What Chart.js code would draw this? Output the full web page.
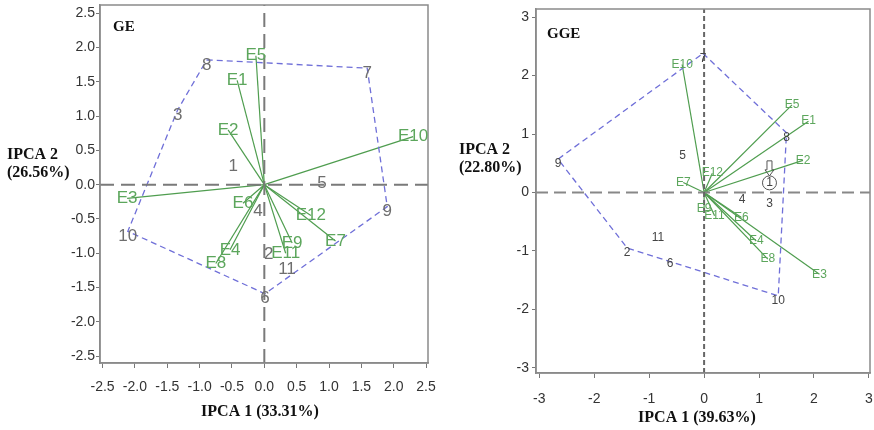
<!DOCTYPE html>
<html>
<head>
<meta charset="utf-8">
<script src="https://cdn.jsdelivr.net/npm/chart.js@4.4.0/dist/chart.umd.min.js"></script>
<style>
html, body { margin: 0; padding: 0; background: #fff; }
#wrap { position: relative; width: 874px; height: 430px; }
.caja { position: absolute; top: 0; height: 430px; width: 437px; }
</style>
</head>
<body>
<div id="wrap">
  <div class="caja" style="left:0"><canvas id="chartGE"></canvas></div>
  <div class="caja" style="left:437px"><canvas id="chartGGE"></canvas></div>
</div>
<script>
// ---------------------------- DATOS: biplot GE ----------------------------
const geGenotipos = ['1', '2', '3', '4', '5', '6', '7', '8', '9', '10', '11'];
const geGenX = [-0.48, 0.07, -1.34, -0.10, 0.89, 0.01, 1.59, -0.89, 1.90, -2.11, 0.35];
const geGenY = [0.34, -0.94, 1.09, -0.31, 0.09, -1.59, 1.70, 1.82, -0.32, -0.68, -1.16];
const gePoligono = ['8', '7', '9', '6', '10', '3'];
const geAmbientes = ['E1', 'E2', 'E3', 'E4', 'E5', 'E6', 'E7', 'E8', 'E9', 'E10', 'E11', 'E12'];
const geAmbX = [-0.42, -0.56, -2.12, -0.53, -0.13, -0.33, 1.10, -0.75, 0.43, 2.30, 0.33, 0.72];
const geAmbY = [1.52, 0.80, -0.20, -0.95, 1.88, -0.27, -0.82, -1.15, -0.85, 0.70, -1.00, -0.45];
const geTicksX = [-2.5, -2.0, -1.5, -1.0, -0.5, 0.0, 0.5, 1.0, 1.5, 2.0, 2.5];
const geTicksY = [-2.5, -2.0, -1.5, -1.0, -0.5, 0.0, 0.5, 1.0, 1.5, 2.0, 2.5];

// ---------------------------- DATOS: biplot GGE ----------------------------
const ggeGenotipos = ['1', '2', '3', '4', '5', '6', '7', '8', '9', '10', '11'];
const ggeGenX = [1.19, -1.40, 1.19, 0.69, -0.39, -0.62, -0.02, 1.50, -2.66, 1.35, -0.84];
const ggeGenY = [0.25, -0.95, -0.11, -0.03, 0.71, -1.14, 2.38, 1.02, 0.57, -1.77, -0.69];
const ggePoligono = ['7', '8', '10', '2', '9'];
const ggeAmbientes = ['E1', 'E2', 'E3', 'E4', 'E5', 'E6', 'E7', 'E8', 'E9', 'E10', 'E11', 'E12'];
const ggeAmbX = [1.90, 1.80, 2.10, 0.95, 1.60, 0.68, -0.38, 1.16, 0.00, -0.40, 0.19, 0.15];
const ggeAmbY = [1.22, 0.55, -1.40, -0.83, 1.50, -0.43, 0.17, -1.14, -0.28, 2.19, -0.40, 0.33];
const ggeTicksX = [-3, -2, -1, 0, 1, 2, 3];
const ggeTicksY = [-3, -2, -1, 0, 1, 2, 3];
const ggeMarcado = '1';

const VERDE = '#4f9d4f';
const VERDE_TXT = '#5ca65c';
const AZUL = '#6f6fd8';

//---------------------------------CONSTRUCCION---------------------------------
function construirDatasets(d) {
    let sets = [];
    // lineas de referencia en 0
    sets.push({ data: [{x: 0, y: d.min.y}, {x: 0, y: d.max.y}], borderColor: d.ceroColorV,
        borderWidth: 2, borderDash: d.dashV, showLine: true, pointRadius: 0 });
    sets.push({ data: [{x: d.min.x, y: 0}, {x: d.max.x, y: 0}], borderColor: d.ceroColorH,
        borderWidth: 2, borderDash: d.dashH, showLine: true, pointRadius: 0 });
    // poligono
    let pol = d.poligono.map(g => {
        let i = d.genotipos.indexOf(g);
        return {x: d.genX[i], y: d.genY[i]};
    });
    pol.push(pol[0]);
    sets.push({ data: pol, borderColor: AZUL, borderWidth: 1.3, borderDash: [6, 4],
        showLine: true, pointRadius: 0 });
    // vectores de ambientes
    for (let i = 0; i < d.ambientes.length; i++) {
        sets.push({ data: [{x: 0, y: 0}, {x: d.ambX[i], y: d.ambY[i]}], borderColor: VERDE,
            borderWidth: 1.2, showLine: true, pointRadius: 0, etiqueta: d.ambientes[i] });
    }
    // genotipos
    sets.push({ data: d.genotipos.map((g, i) => ({x: d.genX[i], y: d.genY[i]})),
        pointRadius: 0, showLine: false, esGenotipo: true });
    return sets;
}

function pluginEtiquetas(d) {
    return {
        id: 'etiquetas',
        afterDatasetsDraw(chart) {
            const ctx = chart.ctx;
            const a = chart.chartArea;
            ctx.save();
            // marco
            ctx.strokeStyle = '#8a8a8a';
            ctx.lineWidth = 1.5;
            ctx.strokeRect(a.left, a.top, a.right - a.left, a.bottom - a.top);
            ctx.textAlign = 'center';
            ctx.textBaseline = 'middle';
            chart.data.datasets.forEach((ds, k) => {
                const meta = chart.getDatasetMeta(k);
                if (ds.etiqueta) {
                    const p = meta.data[1];
                    ctx.fillStyle = VERDE_TXT;
                    ctx.font = d.fuenteAmb;
                    ctx.fillText(ds.etiqueta, p.x, p.y);
                }
                if (ds.esGenotipo) {
                    ctx.fillStyle = d.colorGen;
                    ctx.font = d.fuenteGen;
                    meta.data.forEach((p, i) => {
                        ctx.fillText(d.genotipos[i], p.x, p.y + 5);
                        if (d.genotipos[i] === d.marcado) {
                            ctx.strokeStyle = '#555';
                            ctx.lineWidth = 1;
                            ctx.beginPath();
                            ctx.arc(p.x, p.y + 5, 7, 0, Math.PI * 2);
                            ctx.stroke();
                            // flecha
                            let cx = p.x, t = p.y - 17;
                            ctx.beginPath();
                            ctx.moveTo(cx - 2.5, t);
                            ctx.lineTo(cx + 2.5, t);
                            ctx.lineTo(cx + 2.5, t + 9);
                            ctx.lineTo(cx + 4.5, t + 9);
                            ctx.lineTo(cx, t + 15);
                            ctx.lineTo(cx - 4.5, t + 9);
                            ctx.lineTo(cx - 2.5, t + 9);
                            ctx.closePath();
                            ctx.stroke();
                        }
                    });
                }
            });
            // titulos
            ctx.fillStyle = '#111';
            ctx.font = 'bold 15px "Liberation Serif"';
            ctx.textAlign = 'left';
            ctx.fillText(d.titulo, d.tituloPos[0], d.tituloPos[1]);
            ctx.font = 'bold 16px "Liberation Serif"';
            ctx.fillText(d.tituloY[0], d.tituloYPos[0], d.tituloYPos[1]);
            ctx.fillText(d.tituloY[1], d.tituloYPos[0], d.tituloYPos[1] + 18);
            ctx.textAlign = 'center';
            ctx.fillText(d.tituloX, d.tituloXPos[0], d.tituloXPos[1]);
            ctx.restore();
        }
    };
}

function generarBiplot(idCanvas, d) {
    const escala = (ticks, min, max, ajuste, eje) => ({
        type: 'linear',
        min: min,
        max: max,
        afterBuildTicks: s => { s.ticks = ticks.map(v => ({value: v})); },
        afterFit: s => {
            // anulamos el relleno automatico de las etiquetas extremas
            s.paddingLeft = 0; s.paddingRight = 0; s.paddingTop = 0; s.paddingBottom = 0;
            if (eje === 'x') s.height = ajuste; else s.width = ajuste;
        },
        ticks: {
            autoSkip: false,
            maxRotation: 0,
            color: '#333',
            font: {family: '"Liberation Sans"', size: 14},
            padding: eje === 'x' ? d.padX : d.padY,
            callback: v => d.decimales ? v.toFixed(1) : String(v)
        },
        grid: { drawOnChartArea: false, drawTicks: true, tickLength: eje === 'x' ? 5 : 4, color: '#777' },
        border: { display: true, color: '#8a8a8a', width: 1.5 }
    });

    return new Chart(document.getElementById(idCanvas), {
        type: 'scatter',
        data: { datasets: construirDatasets(d) },
        options: {
            responsive: true,
            maintainAspectRatio: false,
            animation: false,
            layout: { padding: d.padding },
            plugins: { legend: { display: false }, tooltip: { enabled: false } },
            scales: {
                x: escala(d.ticksX, d.min.x, d.max.x, d.altoX, 'x'),
                y: escala(d.ticksY, d.min.y, d.max.y, d.anchoY, 'y')
            }
        },
        plugins: [pluginEtiquetas(d)]
    });
}

generarBiplot('chartGE', {
    genotipos: geGenotipos, genX: geGenX, genY: geGenY, poligono: gePoligono,
    ambientes: geAmbientes, ambX: geAmbX, ambY: geAmbY,
    ticksX: geTicksX, ticksY: geTicksY, decimales: true,
    min: {x: -2.54, y: -2.6}, max: {x: 2.53, y: 2.62},
    padding: {top: 5, right: 9, left: 0, bottom: 0},
    altoX: 67, anchoY: 100, padX: 11, padY: 1,
    ceroColorV: '#7a7a7a', ceroColorH: '#7a7a7a', dashV: [14, 7], dashH: [14, 7],
    fuenteAmb: '17px "Liberation Sans"', fuenteGen: '17px "Liberation Sans"', colorGen: '#6e6e6e',
    marcado: null,
    titulo: 'GE', tituloPos: [113, 27],
    tituloY: ['IPCA 2', '(26.56%)'], tituloYPos: [7, 155],
    tituloX: 'IPCA 1 (33.31%)', tituloXPos: [260, 412]
});

generarBiplot('chartGGE', {
    genotipos: ggeGenotipos, genX: ggeGenX, genY: ggeGenY, poligono: ggePoligono,
    ambientes: ggeAmbientes, ambX: ggeAmbX, ambY: ggeAmbY,
    ticksX: ggeTicksX, ticksY: ggeTicksY, decimales: false,
    min: {x: -3.06, y: -3.09}, max: {x: 3.02, y: 3.14},
    padding: {top: 9, right: 4, left: 0, bottom: 0},
    altoX: 57, anchoY: 99, padX: 13, padY: 3,
    ceroColorV: '#666', ceroColorH: '#888', dashV: [5, 3], dashH: [12, 6],
    fuenteAmb: '12px "Liberation Sans"', fuenteGen: '12px "Liberation Sans"', colorGen: '#444',
    marcado: ggeMarcado,
    titulo: 'GGE', tituloPos: [110, 34],
    tituloY: ['IPCA 2', '(22.80%)'], tituloYPos: [22, 150],
    tituloX: 'IPCA 1 (39.63%)', tituloXPos: [260, 418]
});
</script>
</body>
</html>
